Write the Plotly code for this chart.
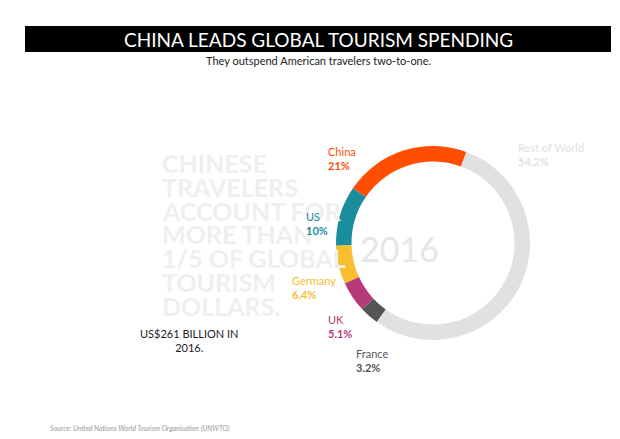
import plotly.graph_objects as go

labels = ["China", "US", "Germany", "UK", "France", "Rest of World"]
values = [21, 10, 6.4, 5.1, 3.2, 54.2]
colors = ["#FF4E00", "#1A8D9E", "#F8BE2E", "#B63A7A", "#555555", "#E1E1E4"]
label_pos = [(318, 150), (296, 215), (282, 279), (318, 318), (346, 352), (508, 146)]
big_lines = ["CHINESE", "TRAVELERS", "ACCOUNT FOR", "MORE THAN", "1/5 OF GLOBAL", "TOURISM", "DOLLARS."]

fig = go.Figure(go.Pie(
    labels=labels, values=values, hole=0.84, sort=False,
    direction="counterclockwise", rotation=-55.6,
    marker=dict(colors=colors, line=dict(width=0)),
    textinfo="none", hoverinfo="label+value", showlegend=False,
    domain=dict(x=[328/620, 522/620], y=[1-332/439, 1-138/439]),
))

ann = []
def A(x, y, t, size, color, **kw):
    fam = kw.pop("family", "Lato")
    ann.append(dict(x=x/620, y=1-y/439, xref="paper", yref="paper", text=t, yanchor="middle",
                    showarrow=False, font=dict(size=size, color=color, family=fam), **kw))

A(310, 31, "CHINA LEADS GLOBAL TOURISM SPENDING", 19, "white")
A(310, 53, "They outspend American travelers two-to-one.", 11, "#222")
for i, line in enumerate(big_lines):
    A(152, 155 + i * 23.8, f"<b>{line}</b>", 25, "#EFEFEF")
A(130, 332, "US$261 BILLION IN<br>2016.", 11, "#222")
A(433, 240, "2016", 34, "#E6E6E8")
for (lx, ly), l, v, c in zip(label_pos, labels, values, colors):
    c2 = "#E2E2E5" if l == "Rest of World" else c
    A(lx, ly, f"{l}<br><b>{v:g}%</b>", 11, c2, xanchor="left", align="left")
A(40, 420, "<i>Source: United Nations World Tourism Organisation (UNWTO)</i>", 7, "#999", xanchor="left")

fig.update_layout(
    width=620, height=439, margin=dict(l=0, r=0, t=0, b=0),
    paper_bgcolor="white", plot_bgcolor="white", annotations=ann,
    shapes=[dict(type="rect", xref="paper", yref="paper", x0=17/620, x1=603/620,
                 y0=1-44/439, y1=1-18/439, fillcolor="black", line=dict(width=0), layer="below")],
)
fig.write_html("out.html")
